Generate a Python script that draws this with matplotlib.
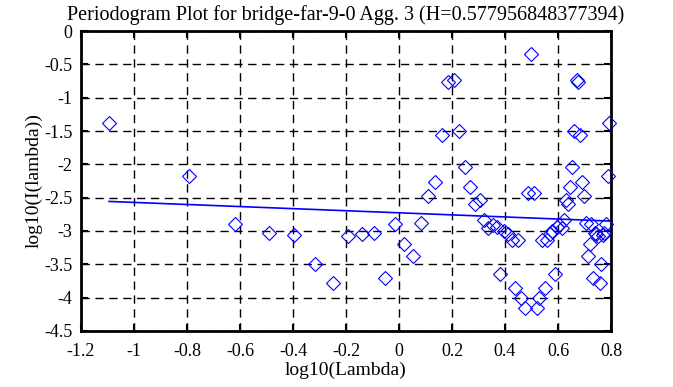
import matplotlib
matplotlib.use("Agg")
import matplotlib.pyplot as plt
from matplotlib.ticker import FuncFormatter, MultipleLocator

plt.rcParams['font.family'] = ['Liberation Serif', 'DejaVu Serif']
plt.rcParams['axes.unicode_minus'] = False

# log10 of frequency (lambda)
log_lambda = [
    -1.094, -0.793, -0.617, -0.492, -0.395, -0.316, -0.249, -0.191, -0.140, -0.094,
    -0.053, -0.015, 0.020, 0.052, 0.082, 0.110, 0.137, 0.161, 0.185, 0.207,
    0.228, 0.249, 0.268, 0.286, 0.304, 0.321, 0.337, 0.353, 0.368, 0.383,
    0.397, 0.411, 0.425, 0.438, 0.450, 0.462, 0.474, 0.486, 0.497, 0.508,
    0.519, 0.529, 0.540, 0.550, 0.559, 0.569, 0.578, 0.587, 0.596, 0.605,
    0.614, 0.622, 0.630, 0.638, 0.646, 0.654, 0.662, 0.670, 0.677, 0.684,
    0.691, 0.698, 0.705, 0.712, 0.719, 0.726, 0.732, 0.739, 0.745, 0.751,
    0.757, 0.763, 0.769, 0.775, 0.781, 0.787, 0.793,
]
# log10 of periodogram I(lambda)
log_I = [
    -1.38, -2.18, -2.89, -3.03, -3.06, -3.50, -3.78, -3.08, -3.04, -3.03,
    -3.70, -2.89, -3.19, -3.38, -2.88, -2.47, -2.26, -1.56, -0.77, -0.74,
    -1.50, -2.04, -2.34, -2.59, -2.53, -2.83, -2.96, -2.91, -2.94, -3.64,
    -3.00, -3.05, -3.14, -3.86, -3.14, -4.01, -4.16, -2.43, -0.34, -2.43,
    -4.16, -4.01, -3.14, -3.86, -3.14, -3.05, -3.00, -3.64, -2.94, -2.91,
    -2.96, -2.83, -2.53, -2.59, -2.34, -2.04, -1.50, -0.74, -0.77, -1.56,
    -2.26, -2.47, -2.88, -3.38, -3.19, -2.89, -3.70, -3.03, -3.04, -3.08,
    -3.78, -3.50, -3.06, -3.03, -2.89, -2.18, -1.38,
]

H = 0.577956848377394
fit_slope = 1 - 2 * H
fit_intercept = -2.727
fit_x = [log_lambda[0], log_lambda[-1]]

title = "Periodogram Plot for bridge-far-9-0 Agg. 3 (H=0.577956848377394)"

fig = plt.figure(figsize=(6.73, 3.87), dpi=100)
ax = fig.add_axes([81 / 673, 1 - 331 / 387, 530 / 673, 300 / 387])

ax.plot(log_lambda, log_I, linestyle='none', marker='D', markersize=7,
        markerfacecolor='none', markeredgecolor='#0000ff', markeredgewidth=0.8,
        clip_on=False, zorder=3)
ax.plot(fit_x, [fit_intercept + fit_slope * v for v in fit_x],
        color='#0000ff', linewidth=1.2, zorder=3)

ax.set_xlim(-1.2, 0.8)
ax.set_ylim(-4.5, 0)
ax.xaxis.set_major_locator(MultipleLocator(0.2))
ax.yaxis.set_major_locator(MultipleLocator(0.5))
fmt = FuncFormatter(lambda v, p: ('%g' % round(v, 6)) if abs(v) > 1e-9 else '0')
ax.xaxis.set_major_formatter(fmt)
ax.yaxis.set_major_formatter(fmt)

ax.grid(True, color='black', linestyle=(0, (6, 4)), linewidth=1.0)
ax.set_axisbelow(True)
ax.tick_params(direction='in', length=5, width=1.5, top=True, right=True,
               labelsize=13, colors='black')
ax.tick_params(axis='x', pad=9)
ax.tick_params(axis='y', pad=6)
for s in ax.spines.values():
    s.set_linewidth(2)
    s.set_color('black')

ax.set_title(title, fontsize=14.5, pad=8)
ax.set_xlabel('log10(Lambda)', fontsize=14, labelpad=1)
ax.set_ylabel('log10(I(lambda))', fontsize=14, labelpad=1)

fig.savefig('out.png', dpi=100)
